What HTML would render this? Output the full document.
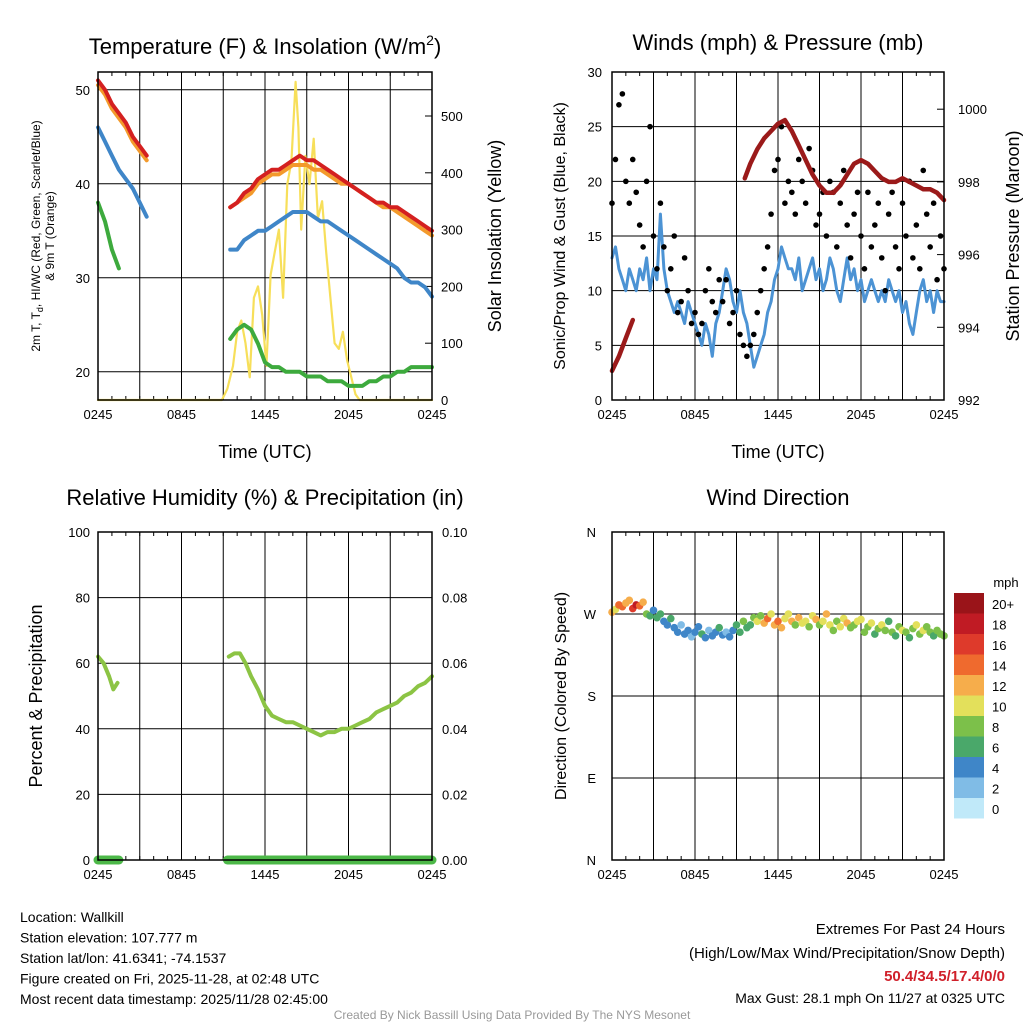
<!DOCTYPE html>
<html><head><meta charset="utf-8"><style>
html,body{margin:0;padding:0;background:#fff;}
svg{display:block;font-family:"Liberation Sans",sans-serif;}
</style></head><body>
<svg id="chart" width="1024" height="1024" viewBox="0 0 1024 1024" xmlns="http://www.w3.org/2000/svg"></svg>
<script>
// ---------- data ----------
const xTickLabels = ["0245","0845","1445","2045","0245"];
const tempTimes = [0,0.5,1,1.5,2,2.5,3,3.5,null,9.5,10,10.5,11,11.5,12,12.5,13,13.5,14,14.5,15,15.5,16,16.5,17,17.5,18,18.5,19,19.5,20,20.5,21,21.5,22,22.5,23,23.5,24];
const tempRed =    [51,50,48.5,47.5,46.5,45,44,43,null,37.5,38,39,39.5,40.5,41,41.5,41.5,42,42.5,43,42.5,42.5,42,41.5,41,40.5,40,39.5,39,38.5,38,38,37.5,37.5,37,36.5,36,35.5,35];
const tempOrange = [50.5,49.5,48,47,46,44.5,43.5,42.5,null,37.5,38,38.5,39,40,40.5,41,41,41.5,42,42,42,41.5,41.5,41,40.5,40,40,39.5,39,38.5,38,37.5,37.5,37,36.5,36,35.5,35,34.5];
const tempBlue =   [46,44.5,43,41.5,40.5,39.5,38,36.5,null,33,33,34,34.5,35,35,35.5,36,36.5,37,37,37,36.5,36,36,35.5,35,34.5,34,33.5,33,32.5,32,31.5,31,30,29.5,29.5,29,28];
const tempGreen =  [38,36,33,31,null,null,null,null,null,23.5,24.5,25,24.5,23,21,20.5,20.5,20,20,20,19.5,19.5,19.5,19,19,19,18.5,18.5,18.5,19,19,19.5,19.5,20,20,20.5,20.5,20.5,20.5];
const solarTimes = [0,8.9,9.3,9.7,10,10.3,10.6,10.9,11.2,11.5,11.8,12.1,12.4,12.7,13,13.3,13.6,13.9,14.2,14.4,14.6,14.9,15.2,15.5,15.8,16.1,16.4,16.7,17,17.3,17.6,17.9,18.2,18.5,18.8,19.2,24];
const solarVals =  [0,0,20,60,120,140,100,40,180,200,150,60,220,260,300,180,380,420,560,480,300,430,380,460,320,350,260,180,100,90,120,70,40,10,0,0,0];
const windSpeed = [13,14,12,11,10,12,11,10,12,11,13,10,12,11,17,12,10,9,8,9,8,7,9,8,7,6,5,7,6,4,7,8,10,12,11,9,8,10,8,7,5,3,4,5,6,8,9,11,12,14,13,12,12,11,13,10,11,12,13,11,12,10,11,13,12,10,9,11,13,11,12,10,11,9,10,11,10,9,10,9,11,10,9,10,8,9,7,6,8,10,11,9,10,8,10,9,9];
const gustVals = [18,22,27,28,20,18,22,19,16,14,20,25,15,12,18,14,10,12,15,8,9,13,10,7,8,6,7,10,12,9,8,11,9,11,7,8,10,6,5,4,5,6,8,10,12,14,17,21,22,25,18,20,19,17,22,20,18,23,21,16,17,19,15,20,19,14,18,21,16,13,17,19,15,12,19,14,16,18,13,10,17,19,14,12,18,15,20,13,16,12,21,17,14,18,11,15,12];
const pressTimes = [0,0.5,1,1.5,null,9.6,10,10.5,11,11.5,12,12.5,13,13.5,14,14.5,15,15.5,16,16.5,17,17.5,18,18.5,19,19.5,20,20.5,21,21.5,22,22.5,23,23.5,24];
const pressVals =  [992.8,993.2,993.7,994.2,null,998.1,998.5,998.9,999.2,999.4,999.6,999.7,999.4,999.0,998.6,998.2,997.9,997.7,997.7,997.9,998.2,998.5,998.6,998.5,998.3,998.1,998.0,998.0,998.1,998.0,997.9,997.8,997.8,997.7,997.5];
const rhTimes = [0,0.4,0.8,1.1,1.4,null,9.4,9.8,10.2,10.6,11,11.5,12,12.5,13,13.5,14,14.5,15,15.5,16,16.5,17,17.5,18,18.5,19,19.5,20,20.5,21,21.5,22,22.5,23,23.5,24];
const rhVals =  [62,60,56,52,54,null,62,63,63,60,56,52,47,44,43,42,42,41,40,39,38,39,39,40,40,41,42,43,45,46,47,48,50,51,53,54,56];
const precipRanges = [[0,1.5],[9.3,24]];
const dirVals = [272,275,280,278,282,285,276,280,279,283,270,268,274,266,270,262,258,265,255,250,258,248,252,245,250,256,248,244,252,246,250,255,247,250,245,252,258,250,262,255,258,266,262,268,260,265,270,258,262,255,265,270,262,258,266,260,262,256,268,264,258,262,270,258,252,262,256,265,260,255,258,262,264,250,256,260,248,254,258,252,262,250,246,256,252,250,244,254,258,248,252,256,250,246,252,248,246];
const dirSpeed = [12,10,14,15,13,12,16,18,14,12,8,6,5,7,6,5,4,6,5,4,3,5,4,3,4,5,6,4,3,4,5,6,4,3,4,5,6,7,8,6,7,8,10,9,12,14,11,13,15,12,10,11,13,9,12,10,11,8,10,12,9,11,13,10,9,8,10,11,12,9,8,10,11,9,8,10,7,9,11,8,6,8,7,9,10,8,7,9,10,8,11,9,8,7,9,8,8];
const cbLabels = ["20+","18","16","14","12","10","8","6","4","2","0"];
const cbColors = ["#9a1419","#c01b24","#de3a2b","#ef6a2e","#f6ad4b","#e3e05b","#7cc04a","#4aa86a","#3f86c8","#80bce6","#c0e9f9"];

// ---------- helpers ----------
const NS="http://www.w3.org/2000/svg";
const svg=document.getElementById('chart');
function mk(tag,attrs,parent){const e=document.createElementNS(NS,tag);for(const k in attrs)e.setAttribute(k,attrs[k]);(parent||svg).appendChild(e);return e;}
function txt(s,x,y,size,anchor,parent,extra){const e=mk('text',Object.assign({x:x,y:y,'font-size':size,'text-anchor':anchor||'middle',fill:'#000'},extra||{}),parent);e.textContent=s;return e;}
function colorFor(s){let i=Math.floor(s/2);if(i>10)i=10;if(i<0)i=0;return cbColors[10-i];}

function panel(name,x0,y0,x1,y1){
  const g=mk('g',{});
  
  
  const sx=t=>x0+(x1-x0)*t/24;
  for(let h=3;h<24;h+=3){mk('line',{x1:sx(h),x2:sx(h),y1:y0,y2:y1,stroke:'#000','stroke-width':1},g);}
  for(let h=0;h<=24;h+=1){const L=h%6==0?7:4;mk('line',{x1:sx(h),x2:sx(h),y1:y1,y2:y1-L,stroke:'#000'},g);mk('line',{x1:sx(h),x2:sx(h),y1:y0,y2:y0+L,stroke:'#000'},g);}
  xTickLabels.forEach((l,i)=>{const e=txt(l,sx(i*6),y1+19,13,'middle',g);});
  return {g,sx};
}
function frame(g,x0,y0,x1,y1){mk('rect',{x:x0,y:y0,width:x1-x0,height:y1-y0,fill:'none',stroke:'#000','stroke-width':1.5},g);}
function linePath(g,ts,vs,sx,sy,color,w,name){
  let d='',pen=false;
  for(let i=0;i<ts.length;i++){if(ts[i]===null||vs[i]===null){pen=false;continue;}d+=(pen?'L':'M')+sx(ts[i]).toFixed(1)+','+sy(vs[i]).toFixed(1);pen=true;}
  const p=mk('path',{d:d,fill:'none',stroke:color,'stroke-width':w,'stroke-linejoin':'round','stroke-linecap':'round'},g);
  return p;
}

// ---------- Panel 1: temperature ----------
(function(){
  const x0=98,y0=72,x1=432,y1=400;
  const {g,sx}=panel('temperature-panel',x0,y0,x1,y1);
  const sy=v=>400-(v-17)*9.4;
  const sr=v=>400-v*0.568;
  [20,30,40,50].forEach(v=>{mk('line',{x1:x0,x2:x1,y1:sy(v),y2:sy(v),stroke:'#000'},g);const e=txt(String(v),x0-8,sy(v)+5,13,'end',g);});
  [0,100,200,300,400,500].forEach(v=>{mk('line',{x1:x1,x2:x1-7,y1:sr(v),y2:sr(v),stroke:'#000'},g);const e=txt(String(v),x1+9,sr(v)+5,13,'start',g);});
  linePath(g,solarTimes,solarVals,sx,sr,'#f7df5a',2.2,'solar-line');
  linePath(g,tempTimes,tempGreen,sx,sy,'#3daa3d',4,'dewpoint-line');
  linePath(g,tempTimes,tempBlue,sx,sy,'#3f86c8',4,'windchill-line');
  linePath(g,tempTimes,tempOrange,sx,sy,'#f39a2c',4,'temp-9m-line');
  linePath(g,tempTimes,tempRed,sx,sy,'#d42020',4,'temp-2m-line');
  frame(g,x0,y0,x1,y1);
  const t=mk('text',{x:265,y:54,'font-size':22,'text-anchor':'middle'},g);
  
  t.innerHTML='Temperature (F) &amp; Insolation (W/m<tspan font-size="14" dy="-9">2</tspan><tspan dy="9">)</tspan>';
  const xl=txt('Time (UTC)',265,458,18,'middle',g);
  const yl=mk('text',{transform:'translate(40,236) rotate(-90)','font-size':12,'text-anchor':'middle'},g);
  
  yl.innerHTML='2m T, T<tspan font-size="9" dy="3">d</tspan><tspan dy="-3">, HI/WC (Red, Green, Scarlet/Blue)</tspan>';
  const yl2=txt('& 9m T (Orange)',0,0,12,'middle',g,{transform:'translate(54,236) rotate(-90)'});
  
  const yr=txt('Solar Insolation (Yellow)',0,0,18,'middle',g,{transform:'translate(501,236) rotate(-90)'});
  
})();

// ---------- Panel 2: winds ----------
(function(){
  const x0=612,y0=72,x1=944,y1=400;
  const {g,sx}=panel('winds-panel',x0,y0,x1,y1);
  const sy=v=>400-v*328/30;
  const sp=v=>400-(v-992)*36.35;
  [5,10,15,20,25].forEach(v=>mk('line',{x1:x0,x2:x1,y1:sy(v),y2:sy(v),stroke:'#000'},g));
  [0,5,10,15,20,25,30].forEach(v=>{const e=txt(String(v),x0-10,sy(v)+5,13,'end',g);});
  [992,994,996,998,1000].forEach(v=>{mk('line',{x1:x1,x2:x1-7,y1:sp(v),y2:sp(v),stroke:'#000'},g);const e=txt(String(v),x1+14,sp(v)+5,13,'start',g);});
  const windTimes=windSpeed.map((v,i)=>i*0.25);
  linePath(g,windTimes,windSpeed,sx,sy,'#4c93d4',3,'sustained-wind-line');
  gustVals.forEach((v,i)=>{const c=mk('circle',{cx:sx(i*0.25),cy:sy(v),r:2.8,fill:'#000'},g);});
  linePath(g,pressTimes,pressVals,sx,sp,'#9b1a1a',4.5,'pressure-line');
  frame(g,x0,y0,x1,y1);
  const t=txt('Winds (mph) & Pressure (mb)',778,50,22,'middle',g);
  const xl=txt('Time (UTC)',778,458,18,'middle',g);
  const yl=txt('Sonic/Prop Wind & Gust (Blue, Black)',0,0,16,'middle',g,{transform:'translate(565,236) rotate(-90)'});
  const yr=txt('Station Pressure (Maroon)',0,0,18,'middle',g,{transform:'translate(1019,236) rotate(-90)'});
})();

// ---------- Panel 3: RH ----------
(function(){
  const x0=98,y0=532,x1=432,y1=860;
  const {g,sx}=panel('humidity-panel',x0,y0,x1,y1);
  const sy=v=>860-v*3.28;
  [20,40,60,80].forEach(v=>mk('line',{x1:x0,x2:x1,y1:sy(v),y2:sy(v),stroke:'#000'},g));
  [0,20,40,60,80,100].forEach(v=>{const e=txt(String(v),x0-8,sy(v)+5,13,'end',g);
    const r=txt((v/1000).toFixed(2),x1+10,sy(v)+5,13,'start',g);});
  linePath(g,rhTimes,rhVals,sx,sy,'#8cc444',4,'rh-line');
  precipRanges.forEach(r=>{const l=mk('line',{x1:sx(r[0]),x2:sx(r[1]),y1:sy(0),y2:sy(0),stroke:'#4cb848','stroke-width':9,'stroke-linecap':'round'},g);});
  frame(g,x0,y0,x1,y1);
  const t=txt('Relative Humidity (%) & Precipitation (in)',265,505,22,'middle',g);
  const yl=txt('Percent & Precipitation',0,0,18,'middle',g,{transform:'translate(42,696) rotate(-90)'});
})();

// ---------- Panel 4: wind direction ----------
(function(){
  const x0=612,y0=532,x1=944,y1=860;
  const {g,sx}=panel('wind-direction-panel',x0,y0,x1,y1);
  const sy=v=>860-v*328/360;
  [90,180,270].forEach(v=>mk('line',{x1:x0,x2:x1,y1:sy(v),y2:sy(v),stroke:'#000'},g));
  ['N','E','S','W','N'].forEach((l,i)=>{const e=txt(l,x0-16,sy(i*90)+5,13,'end',g);});
  dirVals.forEach((v,i)=>{const c=mk('circle',{cx:sx(i*0.25),cy:sy(v),r:3.8,fill:colorFor(dirSpeed[i])},g);});
  frame(g,x0,y0,x1,y1);
  const t=txt('Wind Direction',778,505,22,'middle',g);
  const yl=txt('Direction (Colored By Speed)',0,0,16,'middle',g,{transform:'translate(566,696) rotate(-90)'});
  const cb=mk('g',{},g);
  const ut=txt('mph',1006,587,13,'middle',cb);
  cbLabels.forEach((l,i)=>{const r=mk('rect',{x:954,y:593+i*20.5,width:30,height:20.5,fill:cbColors[i]},cb);
    const e=txt(l,992,609+i*20.5,13,'start',cb);});
})();

// ---------- footer ----------
(function(){
  const g=mk('g',{});
  ['Location: Wallkill','Station elevation: 107.777 m','Station lat/lon: 41.6341; -74.1537','Figure created on Fri, 2025-11-28, at 02:48 UTC','Most recent data timestamp: 2025/11/28 02:45:00'].forEach((s,i)=>{const e=txt(s,20,922+i*20.5,14,'start',g);});
  const h=mk('g',{});
  let e=txt('Extremes For Past 24 Hours',1005,934,15,'end',h);
  e=txt('(High/Low/Max Wind/Precipitation/Snow Depth)',1005,958,15,'end',h);
  e=txt('50.4/34.5/17.4/0/0',1005,981,15,'end',h,{fill:'#d0202a','font-weight':'bold'});
  e=txt('Max Gust: 28.1 mph On 11/27 at 0325 UTC',1005,1003,14,'end',h);
  e=txt('Created By Nick Bassill Using Data Provided By The NYS Mesonet',512,1019,12,'middle',null,{fill:'#999'});
})();
</script>
</body></html>
